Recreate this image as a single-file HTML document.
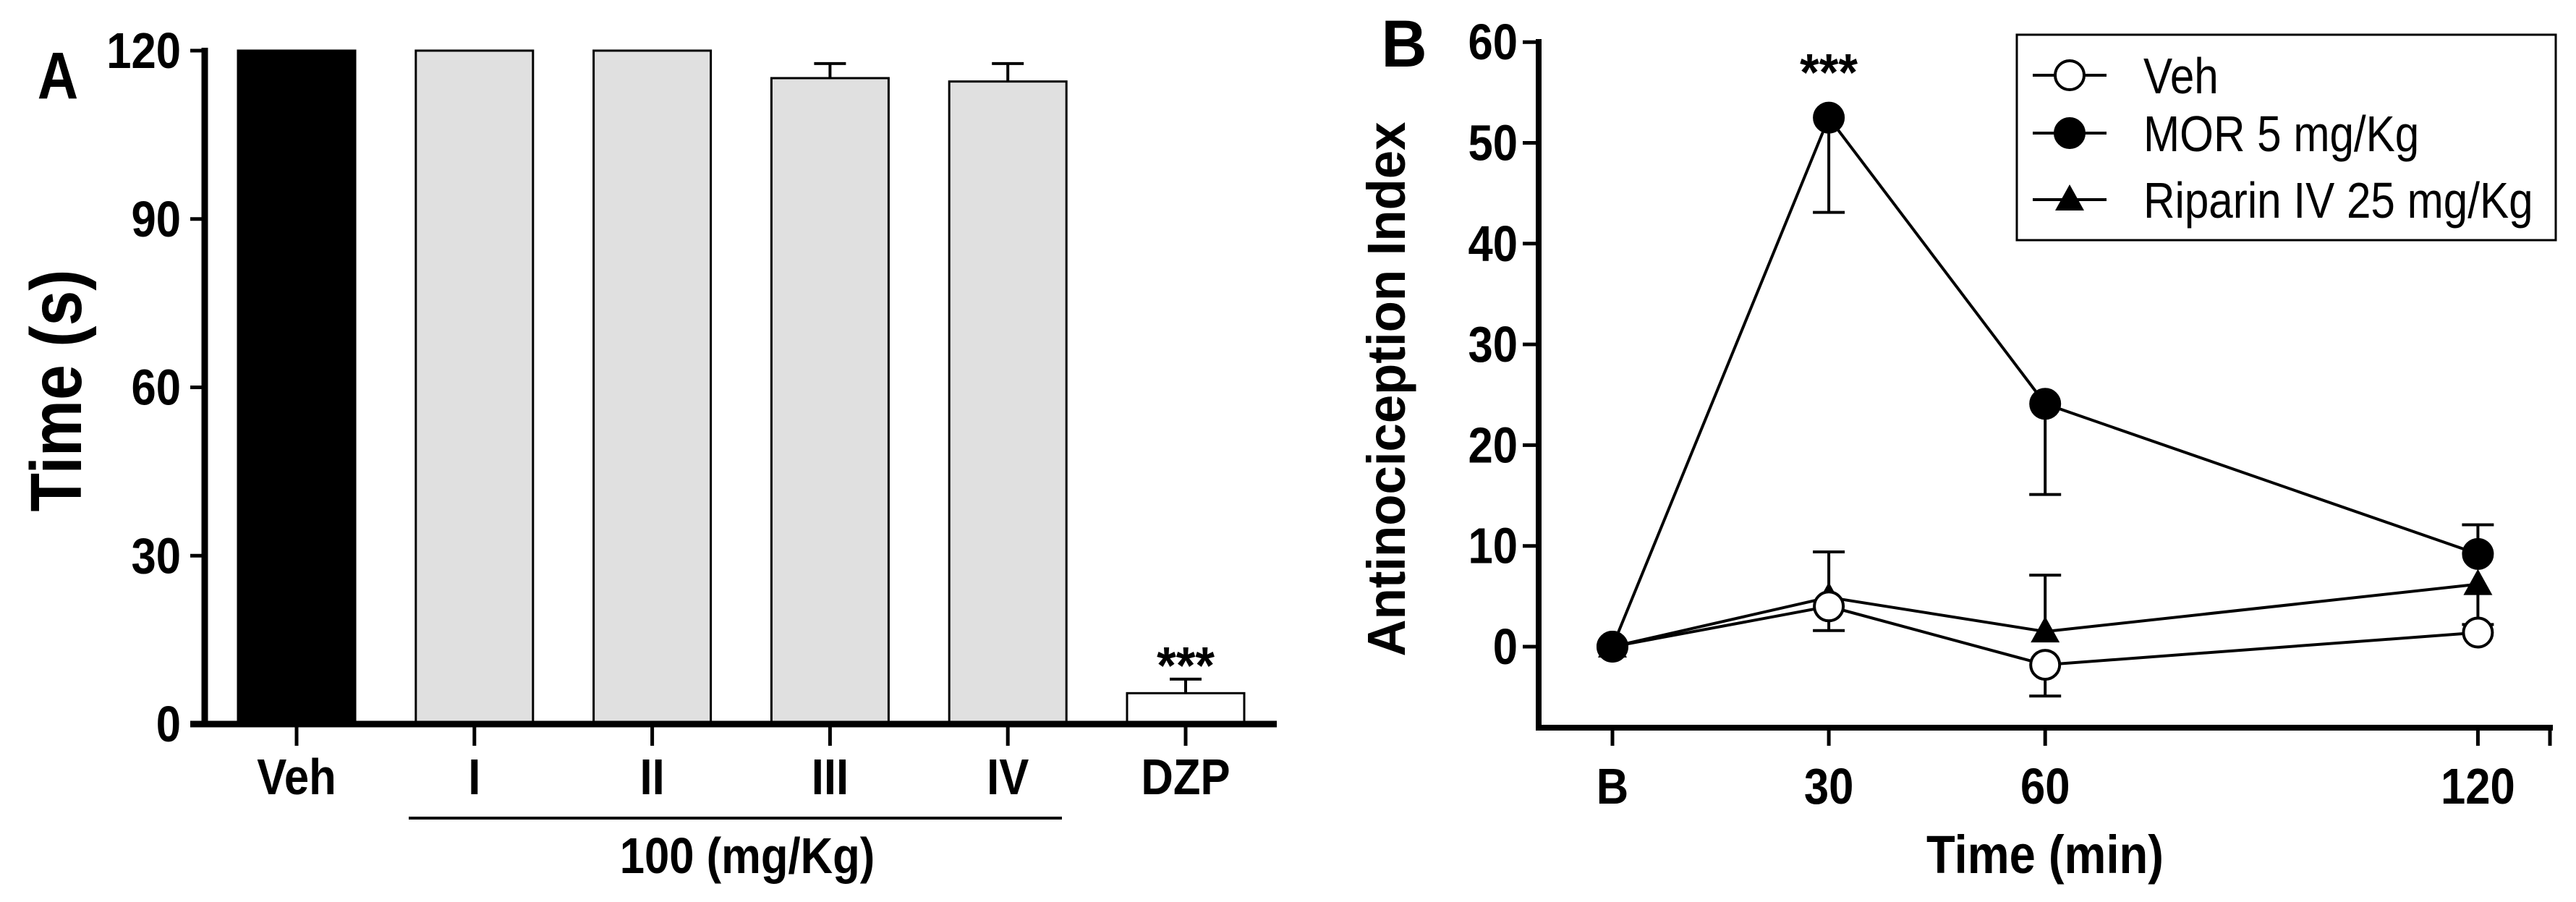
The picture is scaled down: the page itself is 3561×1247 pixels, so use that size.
<!DOCTYPE html>
<html><head><meta charset="utf-8"><style>
html,body{margin:0;padding:0;background:#fff}
svg{display:block}
text{font-family:"Liberation Sans",Arial,sans-serif;fill:#000}
</style></head><body>
<svg id="c" width="3561" height="1247" viewBox="0 0 3561 1247" xmlns="http://www.w3.org/2000/svg"></svg>
<script>
// Panel A data
const catsA = ["Veh","I","II","III","IV","DZP"];
const valsA = [120,120,120,115.1,114.5,5.5];
const errsA = [0,0,0,2.6,3.2,2.5];
const fillsA = ["#000","#e0e0e0","#e0e0e0","#e0e0e0","#e0e0e0","#fff"];
const ticksA = [0,30,60,90,120];
// Panel B data
const timesB = [0,30,60,120];
const timeLabelsB = ["B","30","60","120"];
const vehB = [0,4,-1.8,1.4];
const vehErrB = [0,-2.4,-3.1,0];
const morB = [0,52.5,24.1,9.2];
const morErrB = [0,-9.4,-9,2.9];
const ripB = [0,4.9,1.5,6.2];
const ripErrB = [0,4.5,5.6,-4];
const ticksB = [0,10,20,30,40,50,60];

const svg=document.getElementById('c');
const NS="http://www.w3.org/2000/svg";
function el(tag,attrs,parent){const e=document.createElementNS(NS,tag);for(const k in attrs)e.setAttribute(k,attrs[k]);(parent||svg).appendChild(e);return e;}
function txt(s,x,y,size,anchor,weight,sx,parent){const t=el('text',{transform:`translate(${x},${y}) scale(${sx},1)`,'font-size':size,'text-anchor':anchor,'font-weight':weight},parent);t.textContent=s;return t;}

const FS=70, SX=0.88;
// ===== Panel A =====
const yA=v=>1001-(v/120)*931;
const xA=i=>410+i*245.8;
const gA=el('g',{});


let t=txt("A",80,136,92,"middle","bold",0.85,gA);

catsA.forEach((c,i)=>{
  const x=xA(i),w=162,top=yA(valsA[i]);
  if(errsA[i]>0){
    const ln=el('line',{x1:x,x2:x,y1:top,y2:yA(valsA[i]+errsA[i]),stroke:'#000','stroke-width':4},gA);
    
    el('line',{x1:x-22,x2:x+22,y1:yA(valsA[i]+errsA[i]),y2:yA(valsA[i]+errsA[i]),stroke:'#000','stroke-width':4},gA);
  }
  const r=el('rect',{x:x-w/2,y:top,width:w,height:1001-top,fill:fillsA[i],stroke:'#000','stroke-width':3},gA);
  
  el('line',{x1:x,x2:x,y1:1001,y2:1031,stroke:'#000','stroke-width':5},gA);
  const l=txt(c,x,1098,FS,"middle","bold",SX,gA);
  
});
ticksA.forEach(v=>{
  el('line',{x1:263,x2:283,y1:yA(v),y2:yA(v),stroke:'#000','stroke-width':5},gA);
  const l=txt(String(v),250,yA(v)+24,FS,"end","bold",SX,gA);
  
});
let a=el('line',{x1:283,x2:283,y1:66,y2:1005,stroke:'#000','stroke-width':9},gA);

a=el('line',{x1:263,x2:1765,y1:1001,y2:1001,stroke:'#000','stroke-width':9},gA);

a=el('line',{x1:565,x2:1468,y1:1131,y2:1131,stroke:'#000','stroke-width':4},gA);

t=txt("100 (mg/Kg)",1033,1207,FS,"middle","bold",SX,gA);

t=txt("***",xA(5),945,72,"middle","bold",0.95,gA);

t=el('text',{transform:'translate(112,540) rotate(-90)','font-size':100,'text-anchor':'middle','font-weight':'bold',textLength:335,lengthAdjust:'spacingAndGlyphs'},gA);
t.textContent="Time (s)";


// ===== Panel B =====
const yB=v=>894-v*13.93;
const xB=m=>2229+m*9.97;
const gB=el('g',{});


t=txt("B",1941,92,92,"middle","bold",0.95,gB);

ticksB.forEach(v=>{
  el('line',{x1:2105,x2:2127,y1:yB(v),y2:yB(v),stroke:'#000','stroke-width':5},gB);
  const l=txt(String(v),2098,yB(v)+24,FS,"end","bold",SX,gB);
  
});
timesB.forEach((m,i)=>{
  el('line',{x1:xB(m),x2:xB(m),y1:1006,y2:1031,stroke:'#000','stroke-width':5},gB);
  const l=txt(timeLabelsB[i],xB(m),1111,FS,"middle","bold",SX,gB);
  
});
el('line',{x1:3525,x2:3525,y1:1006,y2:1031,stroke:'#000','stroke-width':5},gB);
a=el('line',{x1:2127,x2:2127,y1:54,y2:1010,stroke:'#000','stroke-width':8},gB);

a=el('line',{x1:2123,x2:3529,y1:1006,y2:1006,stroke:'#000','stroke-width':8},gB);

t=txt("Time (min)",2827,1207,74,"middle","bold",SX,gB);

t=el('text',{transform:'translate(1942,538) rotate(-90)','font-size':74,'text-anchor':'middle','font-weight':'bold',textLength:739,lengthAdjust:'spacingAndGlyphs'},gB);
t.textContent="Antinociception Index";


function marker(kind,x,y,parent){
  if(kind==='tri') return el('polygon',{points:`${x},${y-21} ${x-20},${y+15} ${x+20},${y+15}`,fill:'#000'},parent);
  return el('circle',{cx:x,cy:y,r:20,fill:kind==='open'?'#fff':'#000',stroke:'#000','stroke-width':4},parent);
}
function series(name,vals,errs,kind){
  const g=el('g',{},gB);
  
  vals.forEach((v,i)=>{
    if(errs[i]!==0){
      const x=xB(timesB[i]),e=yB(v+errs[i]);
      el('line',{x1:x,x2:x,y1:yB(v),y2:e,stroke:'#000','stroke-width':4},g);
      el('line',{x1:x-22,x2:x+22,y1:e,y2:e,stroke:'#000','stroke-width':4},g);
    }
  });
  const pts=vals.map((v,i)=>xB(timesB[i])+','+yB(v)).join(' ');
  const pl=el('polyline',{points:pts,fill:'none',stroke:'#000','stroke-width':4},g);
  
  vals.forEach((v,i)=>{
    const m=marker(kind,xB(timesB[i]),yB(v),g);
    
    
  });
}
series('riparin',ripB,ripErrB,'tri');
series('veh',vehB,vehErrB,'open');
series('mor',morB,morErrB,'filled');
t=txt("***",xB(30),125,72,"middle","bold",0.95,gB);


// legend
const lg=el('g',{},gB);

el('rect',{x:2788,y:48,width:745,height:284,fill:'#fff',stroke:'#000','stroke-width':3},lg);
[["Veh",104,'open'],["MOR 5 mg/Kg",184,'filled'],["Riparin IV 25 mg/Kg",276,'tri']].forEach(([s,y,k])=>{
  const e=el('g',{},lg);
  
  el('line',{x1:2810,x2:2912,y1:y,y2:y,stroke:'#000','stroke-width':4},e);
  marker(k,2861,y,e);
  txt(s,2963,y+25,70,"start","normal",0.86,e);
});
</script>
</body></html>
